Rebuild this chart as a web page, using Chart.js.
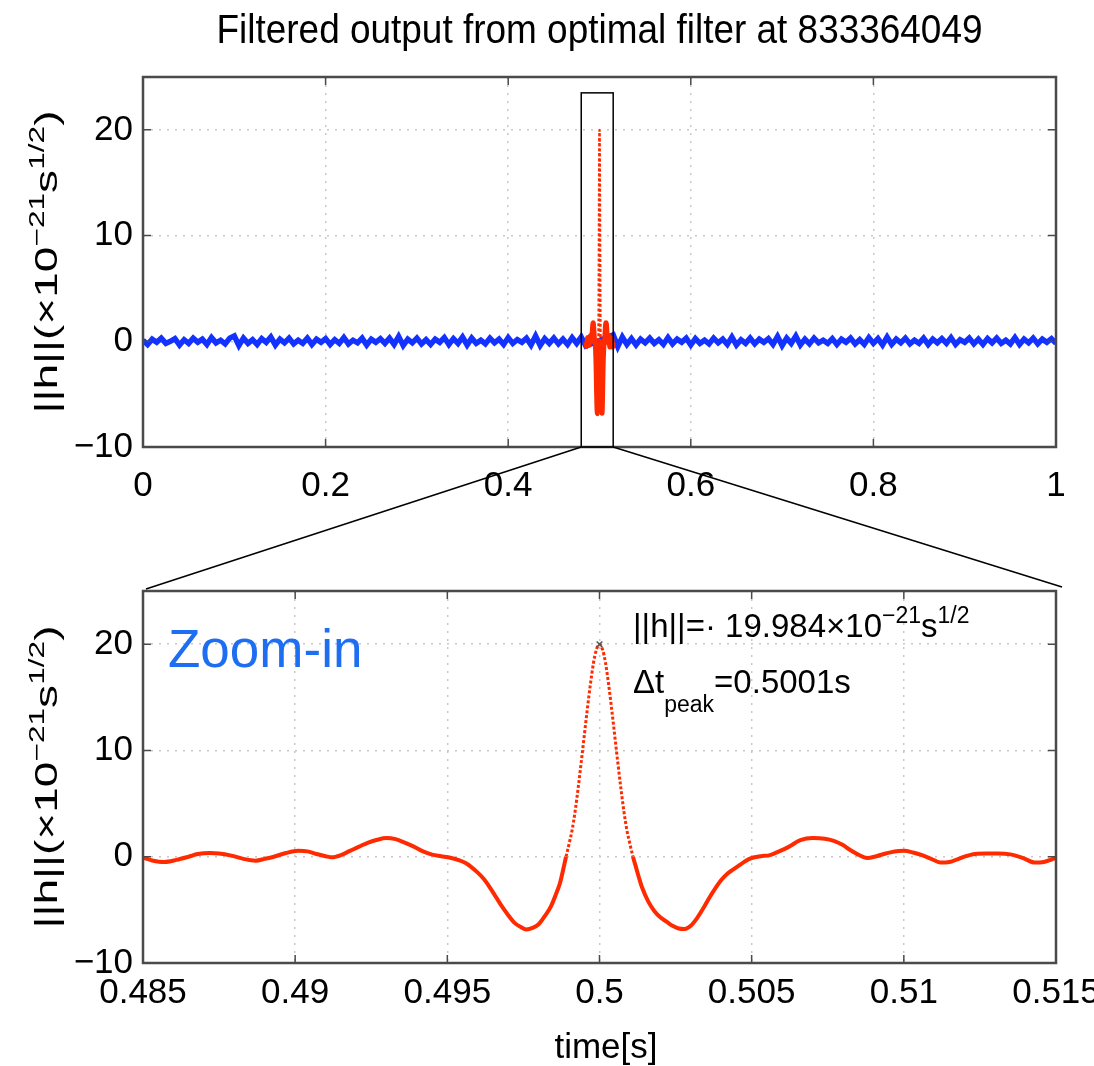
<!DOCTYPE html>
<html>
<head>
<meta charset="utf-8">
<script src="https://cdn.jsdelivr.net/npm/chart.js@4.4.1/dist/chart.umd.min.js"></script>
<style>
    body { margin: 0; background: #fff; }
    #wrap { position: relative; width: 1094px; height: 1066px; }
    canvas { position: absolute; left: 0; }
</style>
</head>
<body>
<div id="wrap">
    <canvas id="topChart" width="1094" height="520" style="top:0;width:1094px;height:520px"></canvas>
    <canvas id="zoomChart" width="1094" height="546" style="top:520px;width:1094px;height:546px"></canvas>
    <canvas id="overlay" width="1094" height="1066" style="top:0;pointer-events:none"></canvas>
</div>
<script>
// ---- data ----
const titleText = 'Filtered output from optimal filter at 833364049';
const topXTicks = [0, 0.2, 0.4, 0.6, 0.8, 1];
const topXLabels = ['0', '0.2', '0.4', '0.6', '0.8', '1'];
const zoomXTicks = [0.485, 0.49, 0.495, 0.5, 0.505, 0.51, 0.515];
const zoomXLabels = ['0.485', '0.49', '0.495', '0.5', '0.505', '0.51', '0.515'];
const yTicks = [-10, 0, 10, 20];
const yLabels = ['\u221210', '0', '10', '20'];

// blue background noise of the full second, sampled every 5 ms
const noiseStep = 0.005;
const noiseLeftStart = 0;
const noiseLeft = [
    0.1, -0.3, 0.2, -0.1, 0.3, -0.2, 0.0, 0.25, -0.35, 0.15,
    -0.2, 0.3, -0.1, 0.2, -0.3, 0.35, -0.15, 0.1, -0.25, 0.3,
    0.5, -0.4, 0.3, -0.2, 0.15, -0.3, 0.25, -0.1, 0.4, -0.35,
    0.2, -0.15, 0.3, -0.25, 0.1, -0.2, 0.3, -0.3, 0.2, -0.1,
    0.25, -0.3, 0.15, -0.2, 0.35, -0.25, 0.1, -0.15, 0.3, -0.35,
    0.2, -0.1, 0.25, -0.2, 0.3, -0.3, 0.45, -0.4, 0.2, -0.15,
    0.3, -0.25, 0.15, -0.3, 0.2, -0.1, 0.35, -0.3, 0.25, -0.2,
    0.4, -0.35, 0.3, -0.2, 0.1, -0.25, 0.3, -0.15, 0.2, -0.3,
    0.35, -0.2, 0.15, -0.1, 0.3, -0.35, 0.5, -0.4, 0.25, -0.2,
    0.3, -0.25, 0.2, -0.3, 0.35, -0.2, 0.4, -0.45
];
const noiseRightStart = 0.515;
const noiseRight = [
    0.6, -0.5, 0.4, -0.3, 0.25, -0.35, 0.2, -0.15, 0.3, -0.2,
    0.15, -0.3, 0.35, -0.25, 0.2, -0.1, 0.3, -0.35, 0.25, -0.2,
    0.1, -0.25, 0.3, -0.15, 0.2, -0.3, 0.4, -0.35, 0.15, -0.2,
    0.3, -0.25, 0.2, -0.1, 0.25, -0.3, 0.45, -0.4, 0.3, -0.2,
    0.5, -0.35, 0.2, -0.25, 0.3, -0.15, 0.1, -0.2, 0.25, -0.3,
    0.2, -0.1, 0.3, -0.25, 0.15, -0.3, 0.35, -0.2, 0.25, -0.35,
    0.4, -0.3, 0.2, -0.15, 0.3, -0.25, 0.1, -0.2, 0.3, -0.3,
    0.2, -0.15, 0.25, -0.2, 0.35, -0.3, 0.15, -0.1, 0.3, -0.25,
    0.2, -0.3, 0.25, -0.15, 0.3, -0.2, 0.1, -0.25, 0.35, -0.3,
    0.2, -0.15, 0.3, -0.25, 0.2, -0.1, 0.25, -0.2
];

// red filter output around the event
const zoomTime = [
    0.4850, 0.4853, 0.4857, 0.4861, 0.4865, 0.4868, 0.4872, 0.4875, 0.4879, 0.4883,
    0.4887, 0.4890, 0.4893, 0.4897, 0.4901, 0.4904, 0.4907, 0.4910, 0.4912, 0.4915,
    0.4918, 0.4921, 0.4924, 0.4927, 0.4930, 0.4933, 0.4936, 0.4939, 0.4942, 0.4945,
    0.4948, 0.4951, 0.4954, 0.4956, 0.4958, 0.4960, 0.4962, 0.4964, 0.4966, 0.4968,
    0.4970, 0.4972, 0.4974, 0.4976, 0.4978, 0.4980, 0.4982, 0.4984, 0.4986, 0.4987,
    0.4988, 0.4989, 0.4990, 0.4991, 0.4992, 0.4993, 0.4994, 0.4995, 0.4996, 0.4997,
    0.4998, 0.4999, 0.5000, 0.5001, 0.5002, 0.5003, 0.5004, 0.5005, 0.5006, 0.5007,
    0.5008, 0.5009, 0.5010, 0.5011, 0.5012, 0.5013, 0.5014, 0.5016, 0.5018, 0.5020,
    0.5022, 0.5024, 0.5026, 0.5028, 0.5030, 0.5032, 0.5034, 0.5036, 0.5038, 0.5040,
    0.5042, 0.5044, 0.5046, 0.5048, 0.5050, 0.5053, 0.5056, 0.5059, 0.5062, 0.5066,
    0.5070, 0.5074, 0.5077, 0.5080, 0.5082, 0.5085, 0.5088, 0.5091, 0.5094, 0.5097,
    0.5100, 0.5103, 0.5106, 0.5109, 0.5112, 0.5115, 0.5118, 0.5121, 0.5124, 0.5127,
    0.5131, 0.5135, 0.5139, 0.5143, 0.5146, 0.5150
];
const zoomValue = [
    -0.1, -0.35, -0.5, -0.3, 0.0, 0.25, 0.35, 0.3, 0.1, -0.2,
    -0.37, -0.2, 0.0, 0.35, 0.55, 0.5, 0.25, 0.05, -0.06, 0.15,
    0.55, 0.95, 1.33, 1.6, 1.75, 1.65, 1.33, 0.95, 0.5, 0.2,
    0.05, -0.1, -0.35, -0.6, -1.0, -1.5, -2.1, -2.9, -3.8, -4.7,
    -5.5, -6.2, -6.6, -6.85, -6.7, -6.35, -5.6, -4.7, -3.3, -2.5,
    -1.3, 0.0, 1.2, 2.5, 4.3, 6.5, 8.9, 11.4, 13.9, 16.2,
    18.2, 19.5, 19.984, 19.5, 18.2, 16.2, 13.9, 11.4, 8.9, 6.5,
    4.3, 2.5, 1.2, 0.0, -1.0, -2.0, -2.9, -4.2, -5.1, -5.7,
    -6.1, -6.5, -6.75, -6.8, -6.5, -5.8, -4.9, -3.9, -3.0, -2.2,
    -1.6, -1.2, -0.8, -0.4, -0.12, 0.05, 0.15, 0.5, 0.9, 1.55,
    1.75, 1.7, 1.5, 1.1, 0.7, 0.2, -0.12, 0.05, 0.3, 0.5,
    0.55, 0.4, 0.15, -0.2, -0.55, -0.5, -0.2, 0.1, 0.28, 0.3,
    0.3, 0.22, -0.1, -0.55, -0.5, -0.12
];
const peakTime = 0.5000;
const peakValue = 19.984;
const peakRange = [0.4989, 0.5011];
const zoomBox = [0.48, 0.515, 23.5];

// ---- styling ----
const FONT = "'Liberation Sans', Arial, Helvetica, sans-serif";
const RED = '#ff2a00';
const BLUE = '#1432ff';
const GRID = '#c8c8c8';
const FRAME = '#4a4a4a';

const yLabelParts = [{t: '||h||(\u00d710'}, {t: '\u221221', sup: true}, {t: 's'}, {t: '1/2', sup: true}, {t: ')'}];
const normParts = [{t: '||h||=\u00b7 19.984\u00d710'}, {t: '\u221221', sup: true}, {t: 's'}, {t: '1/2', sup: true}];
const dtParts = [{t: '\u0394t'}, {t: 'peak', sub: true}, {t: '=0.5001s'}];

function partSize(p, size) {
    return (p.sup || p.sub) ? Math.round(size * 0.7) : size;
}

function richWidth(ctx, parts, size) {
    let w = 0;
    parts.forEach(p => {
        ctx.font = partSize(p, size) + 'px ' + FONT;
        w += ctx.measureText(p.t).width;
    });
    return w;
}

function drawRich(ctx, parts, size, x, y, opts) {
    opts = opts || {};
    const w = richWidth(ctx, parts, size);
    const sx = opts.width ? opts.width / w : 1;
    ctx.save();
    ctx.translate(x, y);
    if (opts.rotate) ctx.rotate(opts.rotate);
    ctx.scale(sx, 1);
    ctx.fillStyle = opts.color || '#000';
    ctx.textBaseline = 'alphabetic';
    ctx.textAlign = 'left';
    let cx = opts.center ? -w / 2 : 0;
    parts.forEach(p => {
        ctx.font = partSize(p, size) + 'px ' + FONT;
        const dy = p.sup ? -size * 0.42 : (p.sub ? size * 0.58 : 0);
        ctx.fillText(p.t, cx, dy);
        cx += ctx.measureText(p.t).width;
    });
    ctx.restore();
}

function axisX(min, max, ticks, labels, pad, height) {
    return {
        type: 'linear',
        min: min,
        max: max,
        afterBuildTicks: s => { s.ticks = ticks.map(v => ({value: v})); },
        afterFit: s => {
            s.height = height;
            s.paddingLeft = 0;
            s.paddingRight = 0;
        },
        ticks: {
            autoSkip: false, maxRotation: 0, padding: pad, color: '#000',
            font: {family: FONT, size: 35},
            callback: (v, i) => labels[i]
        },
        grid: {color: GRID, lineWidth: 1.5, drawTicks: false},
        border: {display: false, dash: [2, 6]}
    };
}

function axisY(width) {
    return {
        min: -10,
        max: 25,
        afterBuildTicks: s => { s.ticks = yTicks.map(v => ({value: v})); },
        afterFit: s => {
            s.width = width;
            s.paddingTop = 0;
            s.paddingBottom = 0;
        },
        ticks: {
            padding: 10, color: '#000',
            font: {family: FONT, size: 35},
            callback: (v, i) => yLabels[i]
        },
        grid: {color: GRID, lineWidth: 1.5, drawTicks: false},
        border: {display: false, dash: [2, 6]}
    };
}

// MATLAB style box with inward tick marks
function drawFrame(chart) {
    const ctx = chart.ctx;
    const a = chart.chartArea;
    const xs = chart.scales.x, ys = chart.scales.y;
    ctx.save();
    ctx.strokeStyle = FRAME;
    ctx.lineWidth = 1.5;
    ctx.beginPath();
    xs.ticks.forEach(t => {
        const px = xs.getPixelForValue(t.value);
        ctx.moveTo(px, a.bottom); ctx.lineTo(px, a.bottom - 8);
        ctx.moveTo(px, a.top); ctx.lineTo(px, a.top + 8);
    });
    ys.ticks.forEach(t => {
        const py = ys.getPixelForValue(t.value);
        ctx.moveTo(a.left, py); ctx.lineTo(a.left + 8, py);
        ctx.moveTo(a.right, py); ctx.lineTo(a.right - 8, py);
    });
    ctx.stroke();
    ctx.lineWidth = 2.5;
    ctx.strokeRect(a.left, a.top, a.right - a.left, a.bottom - a.top);
    ctx.restore();
}

function inPeak(c) {
    return c.p0.parsed.x >= peakRange[0] && c.p1.parsed.x <= peakRange[1];
}

const zoomPoints = zoomTime.map((t, i) => ({x: t, y: zoomValue[i]}));
const noisePoints = noiseLeft.map((v, i) => ({x: noiseLeftStart + i * noiseStep, y: v}))
    .concat(noiseRight.map((v, i) => ({x: noiseRightStart + i * noiseStep, y: v})));

const topDecor = {
    id: 'topDecor',
    afterDraw(chart) {
        const ctx = chart.ctx;
        const a = chart.chartArea;
        const xs = chart.scales.x, ys = chart.scales.y;
        drawFrame(chart);
        // zoom window box
        ctx.save();
        ctx.strokeStyle = '#000';
        ctx.lineWidth = 1.5;
        const x0 = xs.getPixelForValue(zoomBox[0]);
        const x1 = xs.getPixelForValue(zoomBox[1]);
        const yTop = ys.getPixelForValue(zoomBox[2]);
        ctx.strokeRect(x0, yTop, x1 - x0, a.bottom - yTop);
        ctx.restore();
        drawRich(ctx, [{t: titleText}], 41, (a.left + a.right) / 2, 43, {center: true, width: 766});
        drawRich(ctx, yLabelParts, 32, 57, (a.top + a.bottom) / 2, {rotate: -Math.PI / 2, center: true, width: 303});
    }
};

const zoomDecor = {
    id: 'zoomDecor',
    afterDraw(chart) {
        const ctx = chart.ctx;
        const a = chart.chartArea;
        drawFrame(chart);
        drawRich(ctx, yLabelParts, 32, 57, (a.top + a.bottom) / 2, {rotate: -Math.PI / 2, center: true, width: 303});
        drawRich(ctx, [{t: 'Zoom-in'}], 53, 168, 147, {color: '#1e6ef2'});
        drawRich(ctx, normParts, 33, 633, 117);
        drawRich(ctx, dtParts, 33, 633, 173);
        drawRich(ctx, [{t: 'time[s]'}], 35, 606, 538, {center: true});
    }
};

const commonPlugins = {legend: {display: false}, tooltip: {enabled: false}};

const topChart = new Chart(document.getElementById('topChart'), {
    type: 'line',
    data: {
        datasets: [
            {
                data: zoomPoints,
                borderColor: RED,
                borderWidth: 5,
                pointRadius: 0,
                cubicInterpolationMode: 'monotone',
                segment: {
                    borderWidth: c => inPeak(c) ? 2.5 : 5,
                    borderDash: c => inPeak(c) ? [3, 2] : undefined
                },
                order: 0
            },
            {
                data: noisePoints,
                borderColor: BLUE,
                borderWidth: 5.5,
                pointRadius: 0,
                order: 1
            }
        ]
    },
    options: {
        responsive: false,
        animation: false,
        devicePixelRatio: 1,
        layout: {padding: {top: 77, right: 38, left: 0, bottom: 0}},
        plugins: commonPlugins,
        scales: {
            x: axisX(0, 1, topXTicks, topXLabels, 18, 73),
            y: axisY(143)
        }
    },
    plugins: [topDecor]
});

const zoomChart = new Chart(document.getElementById('zoomChart'), {
    type: 'line',
    data: {
        datasets: [
            {
                data: [{x: peakTime, y: peakValue}],
                showLine: false,
                pointStyle: 'crossRot',
                pointRadius: 4,
                borderColor: '#555',
                borderWidth: 1.5,
                order: 0
            },
            {
                data: zoomPoints,
                borderColor: RED,
                borderWidth: 4,
                pointRadius: 0,
                cubicInterpolationMode: 'monotone',
                segment: {
                    borderWidth: c => inPeak(c) ? 3 : 4,
                    borderDash: c => inPeak(c) ? [3, 2] : undefined
                },
                order: 1
            }
        ]
    },
    options: {
        responsive: false,
        animation: false,
        devicePixelRatio: 1,
        layout: {padding: {top: 71, right: 38, left: 0, bottom: 0}},
        plugins: commonPlugins,
        scales: {
            x: axisX(0.485, 0.515, zoomXTicks, zoomXLabels, 9, 103),
            y: axisY(143)
        }
    },
    plugins: [zoomDecor]
});

// lines joining the zoom box to the lower panel
const ov = document.getElementById('overlay').getContext('2d');
const tx = topChart.scales.x;
const za = zoomChart.chartArea;
const zoomTop = 520;
ov.strokeStyle = '#000';
ov.lineWidth = 1.5;
ov.beginPath();
ov.moveTo(tx.getPixelForValue(zoomBox[0]), topChart.chartArea.bottom);
ov.lineTo(za.left + 3, za.top + zoomTop - 2);
ov.moveTo(tx.getPixelForValue(zoomBox[1]), topChart.chartArea.bottom);
ov.lineTo(za.right + 6, za.top + zoomTop - 4);
ov.stroke();
</script>
</body>
</html>
